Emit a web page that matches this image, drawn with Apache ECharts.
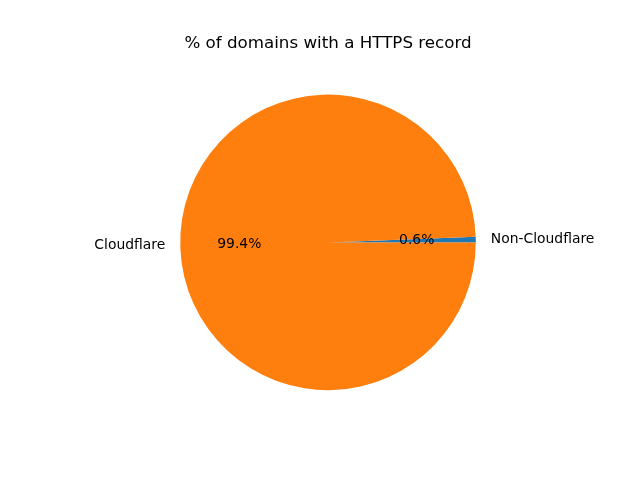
<html>
<head>
<meta charset="utf-8">
<script src="https://cdn.jsdelivr.net/npm/echarts@6/dist/echarts.min.js"></script>
</head>
<body>
<style>
    html, body, #main {
        width: 100%;
        height: 100%;
        margin: 0;
        background: #ffffff;
    }
</style>
<div id='main'></div>
<script>
    var labels = ['Non-Cloudflare', 'Cloudflare'];
    var shares = [0.6, 99.4];
    var colors = ['#1f77b4', '#ff7f0e'];

    var cx = 328, cy = 242.4, r = 147.8;

    var sliceData = [];
    var pctData = [];
    for (var i = 0; i < labels.length; i++) {
        sliceData.push({ name: labels[i], value: shares[i], itemStyle: { color: colors[i] } });
        pctData.push({ name: labels[i], value: shares[i], itemStyle: { color: 'rgba(0,0,0,0)' } });
    }

    var chart = echarts.init(document.getElementById('main'));
    var option = {
        animation: false,
        title: {
            text: '% of domains with a HTTPS record',
            left: cx - 5,
            textAlign: 'center',
            top: 30,
            textStyle: {
                fontFamily: 'DejaVu Sans',
                fontSize: 16.7,
                fontWeight: 'normal',
                color: '#000'
            }
        },
        series: [
            {
                // slices + category labels outside (matplotlib puts them at 1.1 r)
                type: 'pie',
                center: [cx, cy],
                radius: [0, r],
                startAngle: 0,
                clockwise: false,
                avoidLabelOverlap: false,
                silent: true,
                label: {
                    show: true,
                    position: 'outside',
                    distanceToLabelLine: 5,
                    fontFamily: 'DejaVu Sans',
                    fontSize: 13.9,
                    color: '#000'
                },
                labelLine: { show: false, length: 10, length2: 0 },
                data: sliceData
            },
            {
                // invisible pie just to place the percent text at 0.6 r
                type: 'pie',
                center: [cx, cy],
                radius: [0, r * 1.16],
                startAngle: 0,
                clockwise: false,
                avoidLabelOverlap: false,
                silent: true,
                z: 3,
                label: {
                    show: true,
                    position: 'inside',
                    fontFamily: 'DejaVu Sans',
                    fontSize: 13.9,
                    color: '#000',
                    formatter: function (p) { return p.value.toFixed(1) + '%'; }
                },
                labelLine: { show: false },
                data: pctData
            }
        ]
    };
    chart.setOption(option);
    window.onresize = chart.resize;
</script>
</body>
</html>
